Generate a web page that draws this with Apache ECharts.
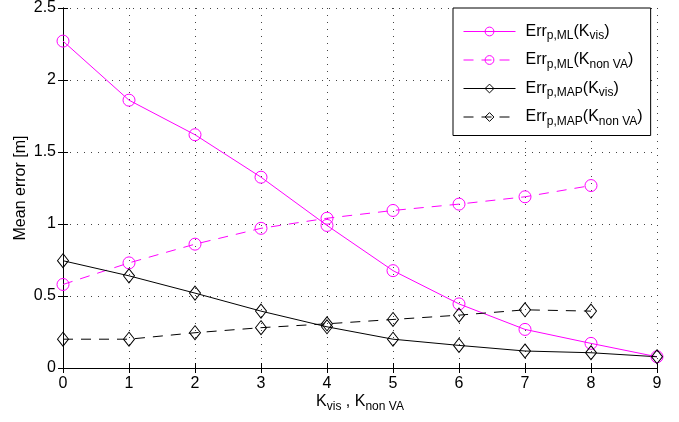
<!DOCTYPE html>
<html><head><meta charset="utf-8">
<script src="https://cdn.jsdelivr.net/npm/echarts@6/dist/echarts.min.js"></script>
<style>html,body{margin:0;padding:0;background:#fff}#c{width:679px;height:422px}</style>
</head><body><div id="c"></div>
<script>
var categories = ['0','1','2','3','4','5','6','7','8','9'];
var yTicks = [0, 0.5, 1, 1.5, 2, 2.5];
var mlVis    = [2.27, 1.86, 1.62, 1.325, 0.99, 0.676, 0.445, 0.268, 0.171, 0.078];
var mlNonVA  = [0.58, 0.73, 0.86, 0.97, 1.04, 1.094, 1.138, 1.189, 1.267];
var mapVis   = [0.745, 0.64, 0.52, 0.395, 0.286, 0.2, 0.157, 0.118, 0.106, 0.078];
var mapNonVA = [0.2, 0.2, 0.245, 0.28, 0.307, 0.337, 0.367, 0.404, 0.395];
var seriesNames = ['mlVis','mlNonVA','mapVis','mapNonVA'];

var FONT = 'Liberation Sans';
var chart = echarts.init(document.getElementById('c'), null, {renderer:'canvas'});

function pts(arr){ return arr.map(function(v,i){ return [i, v]; }); }

var sub = {fontSize: 12, fontFamily: FONT, color:'#000', padding:[9,0,0,0], lineHeight: 24};
var main = {fontSize: 16, fontFamily: FONT, color:'#000', lineHeight: 24};
var first = {fontSize: 16, fontFamily: FONT, color:'#000', lineHeight: 24, padding:[0,0,0,5]};
var legendText = {
  mlVis:    '{e|Err}{s|p,ML}{m|(K}{s|vis}{m|)}',
  mlNonVA:  '{e|Err}{s|p,ML}{m|(K}{s|non VA}{m|)}',
  mapVis:   '{e|Err}{s|p,MAP}{m|(K}{s|vis}{m|)}',
  mapNonVA: '{e|Err}{s|p,MAP}{m|(K}{s|non VA}{m|)}'
};

var MAG = '#ff00ff';
function mk(name, data, color, dashed, symbol, size){
  return {
    name: name, type: 'line', data: pts(data),
    symbol: symbol, symbolSize: size, showAllSymbol: true,
    lineStyle: {color: color, width: 1, type: dashed ? [10,8] : 'solid'},
    itemStyle: {color: 'none', borderColor: color, borderWidth: 1},
    emphasis: {disabled: true}, animation: false, z: 3
  };
}

var option = {
  animation: false,
  grid: {left: 63, right: 22, top: 6, bottom: 54},
  xAxis: [{
    type: 'value', min: 0, max: 9, interval: 1,
    axisLine: {show: true, lineStyle: {color: '#000', width: 1}},
    axisTick: {show: true, inside: true, length: 5, lineStyle: {color:'#000'}},
    axisLabel: {color: '#000', fontSize: 16, fontFamily: FONT, margin: 8,
      formatter: function(v){ return categories[v]; }},
    splitLine: {show: true, lineStyle: {color: '#444', type: [1,6], width: 1}},
    name: '{m|K}{s|vis}{m| , K}{s|non VA}',
    nameLocation: 'middle', nameGap: 22, nameMoveOverlap: false,
    nameTextStyle: {rich: {m: main, s: sub}}
  },{
    type: 'value', min: 0, max: 9, interval: 1, position: 'top',
    axisLine: {show: true, lineStyle: {color: '#000', width: 1}},
    axisTick: {show: true, inside: true, length: 5, lineStyle: {color:'#000'}},
    axisLabel: {show: false}, splitLine: {show: false}
  }],
  yAxis: [{
    type: 'value', min: yTicks[0], max: yTicks[yTicks.length-1], interval: 0.5,
    axisLine: {show: true, lineStyle: {color: '#000', width: 1}},
    axisTick: {show: true, inside: true, length: 5, lineStyle: {color:'#000'}},
    axisLabel: {color: '#000', fontSize: 16, fontFamily: FONT, margin: 7},
    splitLine: {show: true, lineStyle: {color: '#444', type: [1,6], width: 1}},
    name: 'Mean error [m]', nameLocation: 'middle', nameGap: 34, nameRotate: 90,
    nameMoveOverlap: false,
    nameTextStyle: {color: '#000', fontSize: 16, fontFamily: FONT}
  },{
    type: 'value', min: 0, max: 2.5, interval: 0.5, position: 'right',
    axisLine: {show: true, lineStyle: {color: '#000', width: 1}},
    axisTick: {show: true, inside: true, length: 5, lineStyle: {color:'#000'}},
    axisLabel: {show: false}, splitLine: {show: false}
  }],
  legend: {
    orient: 'vertical', left: 453, top: 8,
    backgroundColor: '#fff', borderColor: '#000', borderWidth: 1, borderRadius: 0,
    padding: [13, 8, 8, 10], itemGap: 7.5, itemWidth: 52, itemHeight: 11,
    data: seriesNames,
    lineStyle: {width: 1},
    itemStyle: {borderWidth: 1},
    formatter: function(n){ return legendText[n]; },
    textStyle: {rich: {m: main, s: sub, e: first}}
  },
  series: [
    mk('mlVis', mlVis, MAG, false, 'circle', 12),
    mk('mlNonVA', mlNonVA, MAG, true, 'circle', 12),
    mk('mapVis', mapVis, '#000', false, 'diamond', [11,14]),
    mk('mapNonVA', mapNonVA, '#000', true, 'diamond', [11,14])
  ]
};
chart.setOption(option);
</script></body></html>
